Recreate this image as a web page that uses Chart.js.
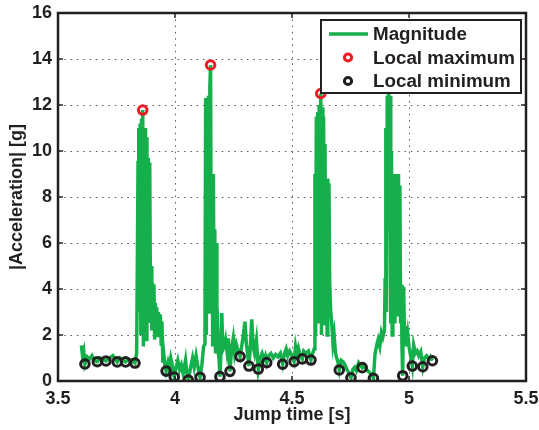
<!DOCTYPE html>
<html>
<head>
<meta charset="utf-8">
<script src="https://cdn.jsdelivr.net/npm/chart.js@4.4.0/dist/chart.umd.min.js"></script>
<style>
  html, body { margin: 0; padding: 0; background: #fff; }
  #wrap { width: 539px; height: 430px; }
</style>
</head>
<body>
<div id="wrap"><canvas id="myChart" width="539" height="430"></canvas></div>
<script>
// jump recording (one row per stretch of the signal)
const jumpTime = [
  3.600, 3.605, 3.610, 3.615, 3.625, 3.635, 3.645, 3.655, 3.668, 3.680, 3.690, 3.705, 3.720, 3.735, 3.745, 3.753, 3.765, 3.775, 3.789, 3.800, 3.815, 3.829,
  3.836, 3.839, 3.842, 3.845, 3.848, 3.851, 3.854, 3.857, 3.860, 3.862, 3.865, 3.868, 3.871, 3.874, 3.877, 3.880, 3.883, 3.886, 3.889, 3.892, 3.895, 3.898, 3.901, 3.904, 3.907, 3.910, 3.913, 3.916, 3.919, 3.922, 3.925, 3.929, 3.933, 3.937, 3.941, 3.944, 3.948, 3.952, 3.957,
  3.962, 3.970, 3.975, 3.982, 3.990, 3.997, 4.005, 4.012, 4.020, 4.027, 4.035, 4.045, 4.050, 4.057, 4.065, 4.075, 4.082, 4.090, 4.100, 4.107, 4.115, 4.122, 4.128,
  4.131, 4.134, 4.137, 4.140, 4.143, 4.146, 4.149, 4.152, 4.155, 4.158, 4.161, 4.164, 4.167, 4.170, 4.173, 4.176, 4.179, 4.181, 4.184, 4.188,
  4.192, 4.196, 4.200, 4.204, 4.210, 4.216, 4.222, 4.228, 4.232, 4.235, 4.242, 4.249, 4.255, 4.262, 4.270, 4.278, 4.285, 4.292, 4.299, 4.305, 4.310, 4.316, 4.322, 4.328, 4.334, 4.340, 4.348, 4.356, 4.364, 4.372, 4.380, 4.386, 4.392, 4.400, 4.410, 4.420, 4.430, 4.440, 4.450, 4.460, 4.468, 4.475, 4.482, 4.490, 4.500, 4.509, 4.515, 4.520, 4.527, 4.535, 4.544, 4.550, 4.560, 4.570, 4.581, 4.588, 4.595,
  4.598, 4.601, 4.604, 4.607, 4.610, 4.613, 4.616, 4.619, 4.623, 4.626, 4.629, 4.632, 4.635, 4.638, 4.641, 4.644, 4.647, 4.650, 4.653, 4.656, 4.658, 4.661, 4.665, 4.670, 4.675, 4.680, 4.686, 4.691, 4.696,
  4.702, 4.710, 4.718, 4.726, 4.735, 4.745, 4.752, 4.760, 4.768, 4.775, 4.785, 4.792, 4.800, 4.808, 4.818, 4.828, 4.838, 4.848, 4.855, 4.862, 4.868, 4.875, 4.882, 4.888, 4.895,
  4.898, 4.901, 4.904, 4.907, 4.910, 4.913, 4.916, 4.919, 4.922, 4.925, 4.928, 4.931, 4.934, 4.937, 4.940, 4.943, 4.946, 4.949, 4.952, 4.955, 4.958, 4.961, 4.964, 4.967, 4.970,
  4.973, 4.977, 4.981, 4.985, 4.990, 4.995, 5.000, 5.005, 5.014, 5.020, 5.028, 5.035, 5.042, 5.050, 5.059, 5.066, 5.075, 5.085, 5.092, 5.100
]
const magnitude = [
  1.55, 1.10, 1.30, 0.74, 1.05, 0.95, 1.10, 0.90, 0.84, 1.00, 0.95, 0.87, 1.00, 1.10, 0.95, 0.83, 1.00, 0.90, 0.83, 0.95, 0.90, 0.78,
  1.20, 5.00, 9.50, 11.00, 3.00, 11.20, 2.00, 11.40, 4.90, 11.78, 1.50, 11.00, 2.50, 11.00, 1.80, 10.60, 3.20, 9.70, 2.60, 9.50, 3.50, 5.00, 2.20, 4.26, 2.80, 4.20, 1.80, 3.40, 2.20, 3.20, 1.90, 3.00, 2.20, 2.90, 1.60, 2.60, 0.80, 1.20, 0.70,
  0.43, 0.80, 0.55, 1.00, 0.60, 0.17, 0.60, 0.90, 0.50, 0.70, 0.30, 0.90, 0.40, 0.04, 0.50, 1.00, 0.60, 1.10, 0.50, 0.16, 0.70, 1.50, 1.60,
  12.30, 2.00, 12.30, 6.50, 12.40, 3.00, 12.80, 13.74, 3.50, 9.00, 1.50, 9.00, 2.50, 6.60, 1.20, 6.00, 3.20, 3.00, 1.30, 1.00,
  0.19, 1.20, 2.95, 1.35, 1.50, 1.80, 1.30, 1.85, 1.00, 0.42, 1.40, 1.86, 1.20, 1.60, 1.30, 1.06, 1.50, 2.00, 2.58, 1.60, 1.20, 0.65, 1.50, 2.68, 1.50, 1.20, 1.78, 0.52, 1.00, 1.20, 0.95, 1.10, 0.80, 1.10, 1.20, 1.00, 1.15, 1.05, 1.20, 0.73, 1.20, 1.40, 1.10, 1.30, 1.10, 0.84, 1.50, 1.20, 1.45, 1.10, 0.96, 1.30, 1.20, 1.30, 0.91, 1.20, 1.40,
  9.00, 2.00, 11.50, 3.00, 11.70, 2.50, 12.00, 4.80, 12.50, 2.00, 11.90, 3.50, 11.50, 2.50, 10.30, 4.00, 8.80, 2.00, 8.80, 3.00, 8.60, 4.30, 3.10, 2.50, 1.65, 2.00, 1.20, 1.00, 0.84,
  0.48, 0.90, 0.84, 0.70, 0.50, 0.30, 0.14, 0.50, 0.60, 0.45, 0.80, 0.70, 0.58, 0.70, 0.50, 0.40, 0.30, 0.12, 1.20, 1.56, 1.80, 1.50, 2.10, 1.90, 2.20,
  4.40, 11.00, 3.00, 12.40, 6.50, 13.10, 7.00, 12.40, 2.50, 10.00, 2.00, 9.00, 3.00, 9.00, 2.50, 9.00, 3.50, 9.00, 2.80, 9.00, 4.30, 8.50, 2.50, 4.20, 1.50,
  0.23, 4.10, 1.80, 2.40, 1.50, 2.00, 1.50, 1.20, 0.65, 1.56, 1.20, 1.30, 1.10, 1.27, 0.62, 1.00, 1.10, 0.95, 1.05, 0.88
]
const maxTime = [3.862, 4.152, 4.623, 4.913]
const maxValue = [11.78, 13.74, 12.50, 13.10]
const minTime = [
  3.615, 3.668, 3.705, 3.753, 3.789, 3.829, 3.962, 3.997, 4.057, 4.107,
  4.192, 4.235, 4.278, 4.316, 4.356, 4.392, 4.460, 4.509, 4.544, 4.581,
  4.702, 4.752, 4.800, 4.848, 4.973, 5.014, 5.059, 5.100
]
const minValue = [
  0.74, 0.84, 0.87, 0.83, 0.83, 0.78, 0.43, 0.17, 0.04, 0.16,
  0.19, 0.42, 1.06, 0.65, 0.52, 0.80, 0.73, 0.84, 0.96, 0.91,
  0.48, 0.14, 0.58, 0.12, 0.23, 0.65, 0.62, 0.88
]
const xTicks = [3.5, 4, 4.5, 5, 5.5]
const yTicks = [0, 2, 4, 6, 8, 10, 12, 14, 16]
const legendNames = ['Magnitude', 'Local maximum', 'Local minimum']

const green = '#15b04b'
const red = '#ec1c24'
const ink = '#231f20'
const fontFamily = "'Liberation Sans', Arial, Helvetica, sans-serif"

const toPoints = (xs, ys) => xs.map((x, i) => ({ x: x, y: ys[i] }))

// MATLAB style box, inward ticks and the legend on top of the data
const matlabBox = {
  id: 'matlabBox',
  afterDatasetsDraw(chart) {
    const c = chart.ctx
    const a = chart.chartArea
    const xs = chart.scales.x
    const ys = chart.scales.y
    c.save()
    c.strokeStyle = ink
    c.lineWidth = 1.5
    xTicks.forEach((t) => {
      const px = xs.getPixelForValue(t)
      c.beginPath()
      c.moveTo(px, a.bottom); c.lineTo(px, a.bottom - 5)
      c.moveTo(px, a.top); c.lineTo(px, a.top + 5)
      c.stroke()
    })
    yTicks.forEach((t) => {
      const py = ys.getPixelForValue(t)
      c.beginPath()
      c.moveTo(a.left, py); c.lineTo(a.left + 5, py)
      c.moveTo(a.right, py); c.lineTo(a.right - 5, py)
      c.stroke()
    })
    c.lineWidth = 2.5
    c.strokeRect(a.left, a.top, a.right - a.left, a.bottom - a.top)

    // legend
    const w = 200, h = 73
    const lx = a.right - 5 - w
    const ly = a.top + 7
    c.fillStyle = '#fff'
    c.fillRect(lx, ly, w, h)
    c.lineWidth = 2
    c.strokeStyle = ink
    c.strokeRect(lx, ly, w, h)
    const rowY = [ly + 14, ly + 37.5, ly + 61]
    c.strokeStyle = green
    c.lineWidth = 3.5
    c.beginPath()
    c.moveTo(lx + 8, rowY[0]); c.lineTo(lx + 47, rowY[0])
    c.stroke()
    c.lineWidth = 3
    c.strokeStyle = red
    c.beginPath(); c.arc(lx + 27, rowY[1], 3.6, 0, Math.PI * 2); c.stroke()
    c.strokeStyle = ink
    c.beginPath(); c.arc(lx + 27, rowY[2], 3.6, 0, Math.PI * 2); c.stroke()
    c.fillStyle = ink
    c.font = 'bold 18.8px ' + fontFamily
    c.textBaseline = 'middle'
    c.textAlign = 'left'
    legendNames.forEach((n, i) => c.fillText(n, lx + 52, rowY[i] + 1))
    c.restore()
  }
}

const ctx = document.getElementById('myChart').getContext('2d')
const myChart = new Chart(ctx, {
  type: 'line',
  data: {
    datasets: [
      {
        label: legendNames[1],
        type: 'scatter',
        data: toPoints(maxTime, maxValue),
        borderColor: red,
        backgroundColor: 'rgba(0,0,0,0)',
        pointRadius: 4.3,
        pointBorderWidth: 3,
        order: 0,
      },
      {
        label: legendNames[2],
        type: 'scatter',
        data: toPoints(minTime, minValue),
        borderColor: ink,
        backgroundColor: 'rgba(0,0,0,0)',
        pointRadius: 4.3,
        pointBorderWidth: 3,
        order: 1,
      },
      {
        label: legendNames[0],
        data: toPoints(jumpTime, magnitude),
        borderColor: green,
        borderWidth: 3.5,
        pointRadius: 0,
        tension: 0,
        fill: false,
        order: 2,
      },
    ],
  },
  options: {
    responsive: false,
    animation: false,
    layout: { padding: { top: 13, right: 13, left: 0, bottom: 0 } },
    plugins: {
      legend: { display: false },
      tooltip: { enabled: false },
    },
    scales: {
      x: {
        type: 'linear',
        min: 3.5,
        max: 5.5,
        afterBuildTicks: (s) => { s.ticks = xTicks.map((v) => ({ value: v })) },
        afterFit: (s) => { s.height = 49; s.paddingLeft = 0; s.paddingRight = 0 },
        grid: { color: 'rgba(35,31,32,0.75)', lineWidth: 1, drawTicks: false },
        border: { display: false, dash: [1.5, 4.8] },
        ticks: {
          padding: 7,
          color: ink,
          font: { family: fontFamily, size: 18, weight: 'bold' },
          maxRotation: 0,
          callback: (v) => String(v),
        },
        title: {
          display: true,
          text: 'Jump time [s]',
          color: ink,
          font: { family: fontFamily, size: 18, weight: 'bold' },
          padding: { top: 0, bottom: 4 },
        },
      },
      y: {
        min: 0,
        max: 16,
        afterBuildTicks: (s) => { s.ticks = yTicks.map((v) => ({ value: v })) },
        afterFit: (s) => { s.width = 58; s.paddingTop = 0; s.paddingBottom = 0 },
        grid: { color: 'rgba(35,31,32,0.75)', lineWidth: 1, drawTicks: false },
        border: { display: false, dash: [1.5, 4.8] },
        ticks: {
          padding: 6,
          color: ink,
          font: { family: fontFamily, size: 18, weight: 'bold' },
        },
        title: {
          display: true,
          text: '|Acceleration| [g]',
          color: ink,
          font: { family: fontFamily, size: 18, weight: 'bold' },
          padding: { top: 6, bottom: 0 },
        },
      },
    },
  },
  plugins: [matlabBox],
})
</script>
</body>
</html>
